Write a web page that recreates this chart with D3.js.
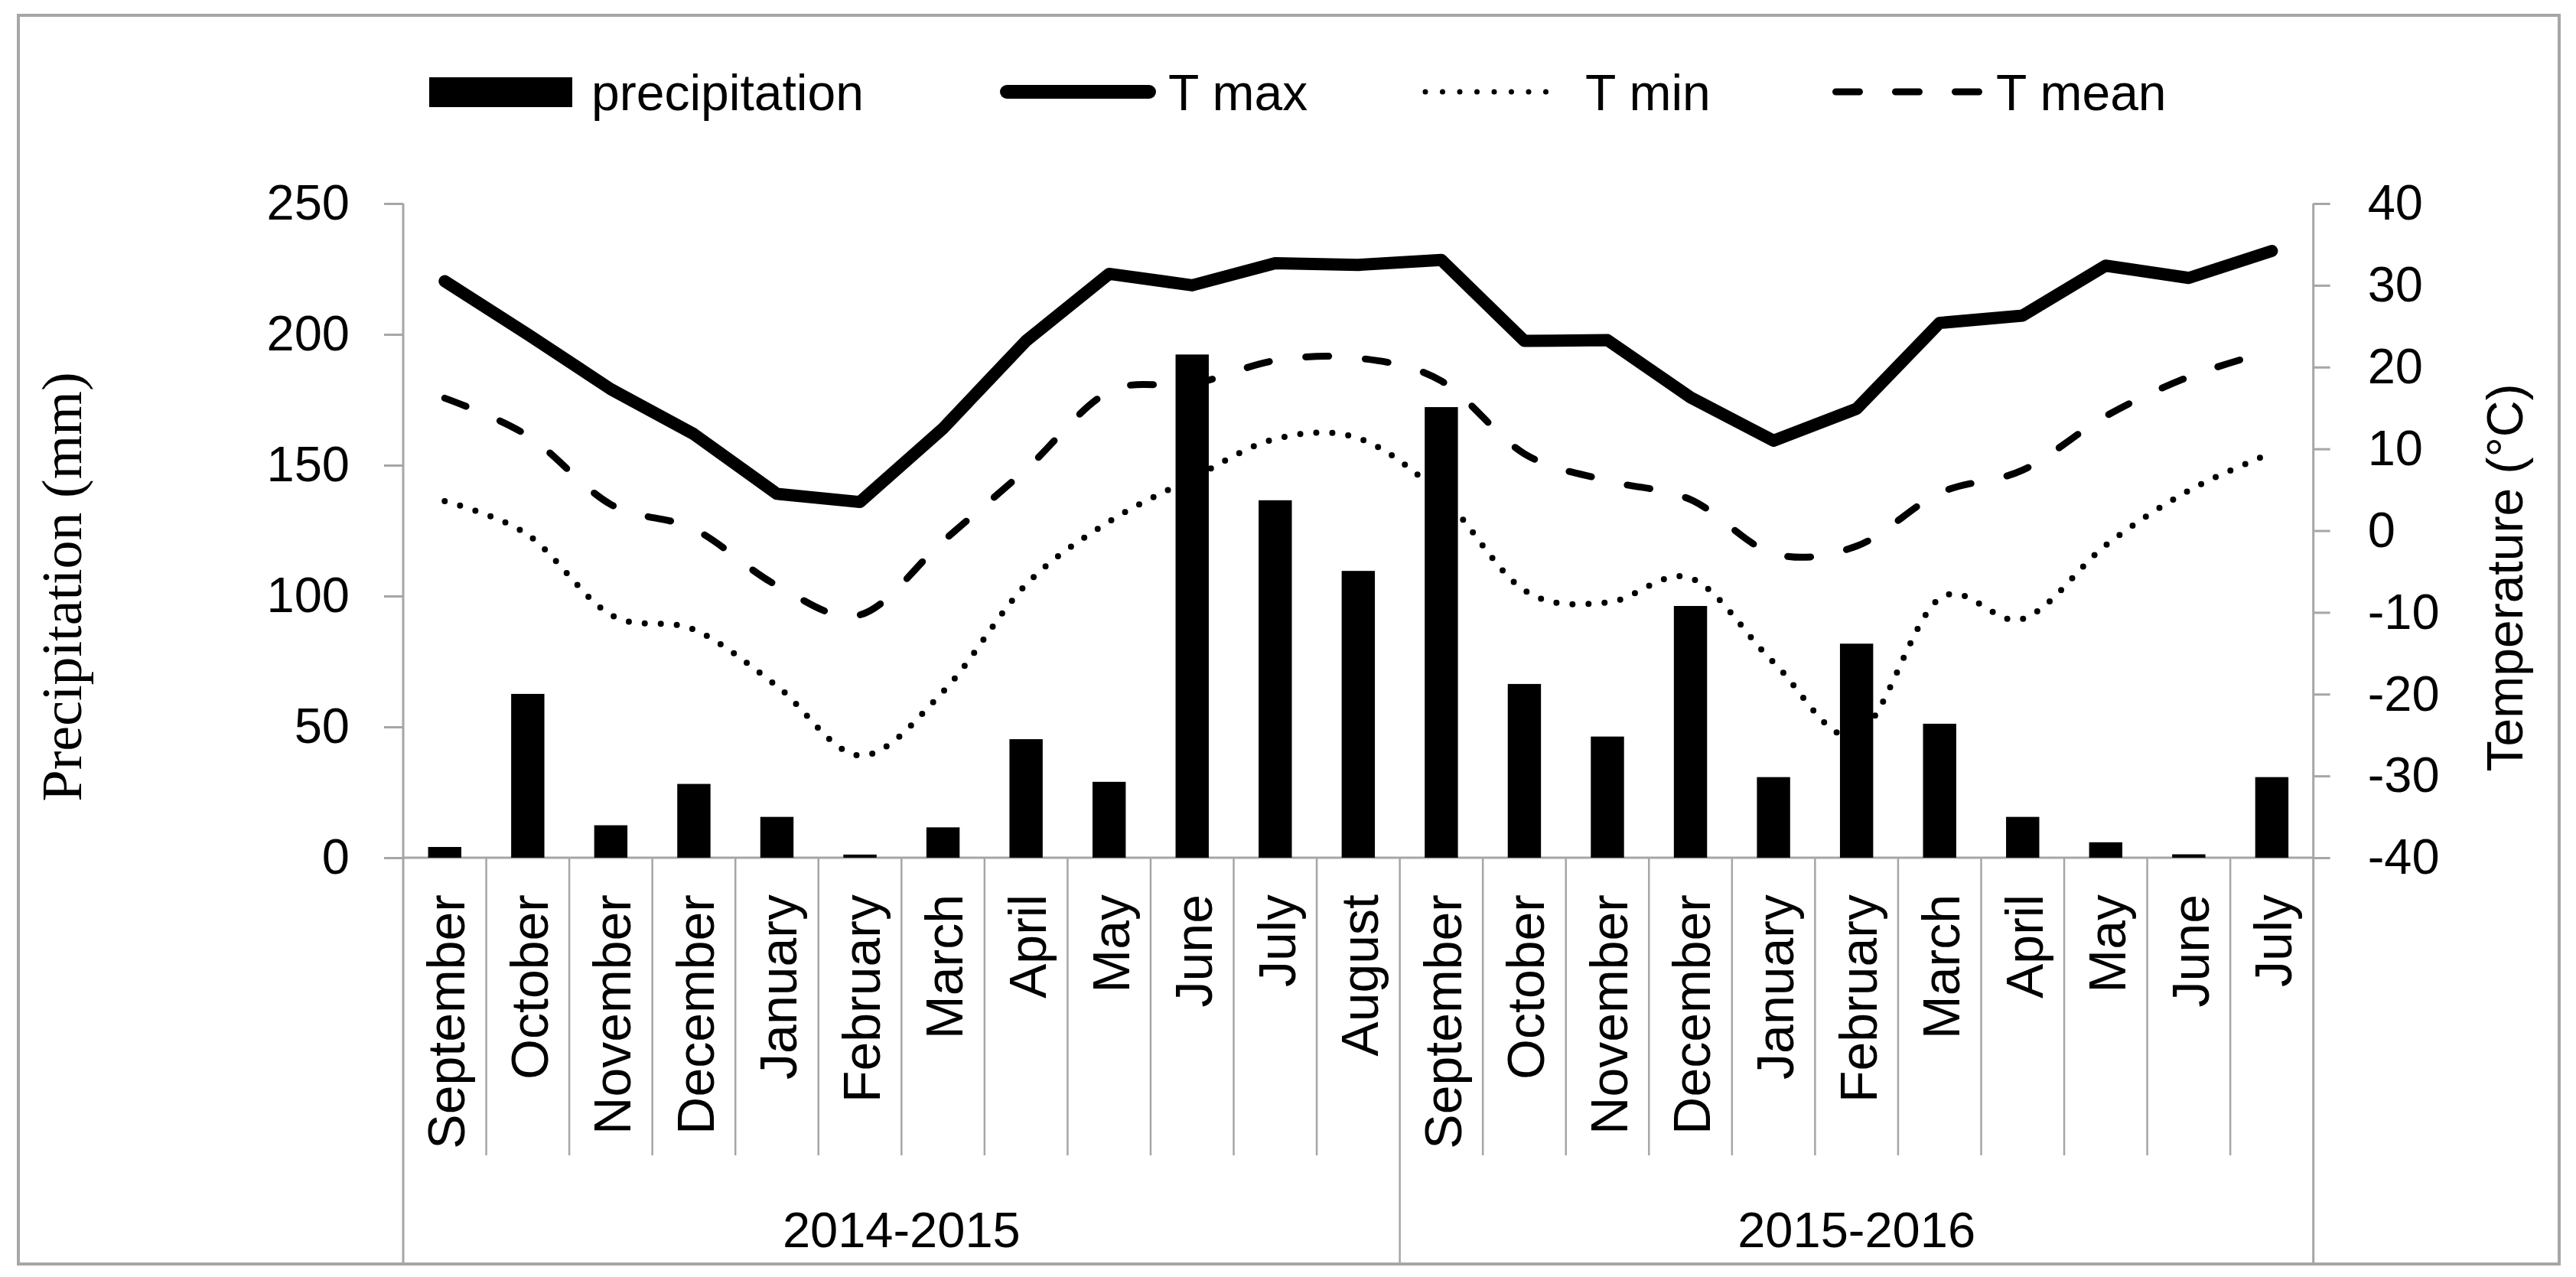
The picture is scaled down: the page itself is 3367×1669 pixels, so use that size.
<!DOCTYPE html>
<html>
<head>
<meta charset="utf-8">
<script src="https://cdn.jsdelivr.net/npm/d3@7/dist/d3.min.js"></script>
<style>
  html, body { margin: 0; padding: 0; background: #ffffff; }
  svg { display: block; }
</style>
</head>
<body>
<svg id="chart" width="3367" height="1669"></svg>
<script>
// ---------------- data ----------------
const months = ["September","October","November","December","January","February","March","April","May","June","July","August",
                "September","October","November","December","January","February","March","April","May","June","July"];
const seasons = ["2014-2015", "2015-2016"];
const seasonLengths = [12, 11];
const precipitation = [4.1, 62.6, 12.4, 28.2, 15.6, 1.2, 11.6, 45.3, 29.0, 192.3, 136.6, 109.6,
                       172.2, 66.4, 46.3, 96.2, 30.8, 81.8, 51.2, 15.6, 5.9, 1.3, 30.8];
const tMax  = [30.5, 24.0, 17.3, 11.8, 4.5, 3.5, 12.5, 23.2, 31.4, 30.0, 32.7, 32.5,
               33.1, 23.2, 23.3, 16.3, 11.0, 14.9, 25.4, 26.3, 32.4, 30.9, 34.2];
const tMin  = [3.6, -0.5, -10.3, -12.1, -19.0, -27.5, -19.7, -6.6, 1.1, 6.4, 11.2, 11.3,
               4.3, -7.3, -8.8, -5.8, -16.1, -25.0, -8.3, -10.8, -1.8, 4.9, 9.5];
const tMean = [16.2, 11.6, 3.2, 0.2, -6.7, -10.3, -1.3, 7.5, 17.0, 17.9, 20.8, 21.1,
               18.3, 9.4, 6.1, 3.8, -2.8, -1.9, 4.6, 7.4, 14.0, 18.8, 22.0];
const precipTicks = [0, 50, 100, 150, 200, 250];
const tempTicks = [-40, -30, -20, -10, 0, 10, 20, 30, 40];
const legendLabels = ["precipitation", "T max", "T min", "T mean"];

// ---------------- layout ----------------
const W = 3367, H = 1669;
const plotL = 527, plotR = 3023.7, plotT = 266, plotB = 1121;
const sepBottom = 1510, frameBottom = 1651;
const gray = "#a6a6a6";
const sans = "'Liberation Sans', Arial, sans-serif";
const serif = "'Liberation Serif', 'Times New Roman', serif";

const svg = d3.select("#chart");
svg.append("rect").attr("x", 0).attr("y", 0).attr("width", W).attr("height", H).attr("fill", "#fff");
// outer frame
svg.append("rect").attr("x", 24).attr("y", 20).attr("width", 3321).attr("height", 1632)
   .attr("fill", "none").attr("stroke", gray).attr("stroke-width", 4);

const idx = d3.range(months.length);
const x = d3.scaleBand().domain(idx).range([plotL, plotR]).paddingInner(0).paddingOuter(0);
const cx = i => x(i) + x.bandwidth() / 2;
const yP = d3.scaleLinear().domain([0, 250]).range([plotB, plotT]);
const yT = d3.scaleLinear().domain([-40, 40]).range([plotB, plotT]);

// ---------------- axes ----------------
const axL = svg.append("g").attr("transform", `translate(${plotL},0)`)
  .call(d3.axisLeft(yP).tickValues(precipTicks).tickSize(25).tickSizeOuter(0).tickPadding(45).tickFormat(d => String(d)));
const axR = svg.append("g").attr("transform", `translate(${plotR},0)`)
  .call(d3.axisRight(yT).tickValues(tempTicks).tickSize(22).tickSizeOuter(0).tickPadding(49).tickFormat(d => String(d)));
[axL, axR].forEach(g => {
  g.select(".domain").remove();
  g.selectAll(".tick line").attr("stroke", gray).attr("stroke-width", 3);
  g.selectAll(".tick text").attr("fill", "#000").style("font-family", sans).style("font-size", "65px");
});
// vertical axis lines (continue down as group separators)
svg.append("line").attr("x1", plotL).attr("x2", plotL).attr("y1", plotT).attr("y2", frameBottom)
   .attr("stroke", gray).attr("stroke-width", 3);
svg.append("line").attr("x1", plotR).attr("x2", plotR).attr("y1", plotT).attr("y2", frameBottom)
   .attr("stroke", gray).attr("stroke-width", 3);
// category axis baseline
svg.append("line").attr("x1", plotL).attr("x2", plotR).attr("y1", plotB).attr("y2", plotB)
   .attr("stroke", gray).attr("stroke-width", 3);

// category separators
let cum = 0;
const groupEdges = [0];
seasonLengths.forEach(n => { cum += n; groupEdges.push(cum); });
d3.range(1, months.length).forEach(i => {
  const isGroup = groupEdges.includes(i);
  svg.append("line").attr("x1", x(i)).attr("x2", x(i))
     .attr("y1", plotB).attr("y2", isGroup ? frameBottom : sepBottom)
     .attr("stroke", gray).attr("stroke-width", 2.5);
});

// month labels
svg.append("g").selectAll("text").data(idx).join("text")
  .attr("transform", i => `translate(${cx(i)},1169) rotate(-90)`)
  .attr("text-anchor", "end").attr("dy", "0.38em")
  .style("font-family", sans).style("font-size", "68px").attr("fill", "#000")
  .text(i => months[i]);

// season labels
seasons.forEach((s, k) => {
  const x0 = x(groupEdges[k]);
  const x1 = groupEdges[k + 1] < months.length ? x(groupEdges[k + 1]) : plotR;
  svg.append("text").attr("x", (x0 + x1) / 2).attr("y", 1630).attr("text-anchor", "middle")
     .style("font-family", sans).style("font-size", "65px").attr("fill", "#000").text(s);
});

// axis titles
svg.append("text").attr("transform", "translate(106,767) rotate(-90)").attr("text-anchor", "middle")
   .style("font-family", serif).style("font-size", "74px").attr("fill", "#000").text("Precipitation (mm)");
svg.append("text").attr("transform", "translate(3297,755) rotate(-90)").attr("text-anchor", "middle")
   .style("font-family", sans).style("font-size", "66px").attr("fill", "#000").text("Temperature (°C)");

// ---------------- lines ----------------
const lineLin = d3.line().x((d, i) => cx(i)).y(d => yT(d)).curve(d3.curveLinear);
const lineSmooth = d3.line().x((d, i) => cx(i)).y(d => yT(d)).curve(d3.curveCardinal.tension(0));

svg.append("path").attr("d", lineSmooth(tMin)).attr("fill", "none").attr("stroke", "#000")
   .attr("stroke-width", 8).attr("stroke-linecap", "round").attr("stroke-dasharray", "0 21");
svg.append("path").attr("d", lineSmooth(tMean)).attr("fill", "none").attr("stroke", "#000")
   .attr("stroke-width", 9).attr("stroke-linecap", "round").attr("stroke-dasharray", "30 48");
svg.append("path").attr("d", lineLin(tMax)).attr("fill", "none").attr("stroke", "#000")
   .attr("stroke-width", 16).attr("stroke-linecap", "round").attr("stroke-linejoin", "round");

// ---------------- bars ----------------
const bw = x.bandwidth() * 0.4;
svg.append("g").selectAll("rect").data(precipitation).join("rect")
  .attr("x", (d, i) => cx(i) - bw / 2).attr("width", bw)
  .attr("y", d => yP(d)).attr("height", d => yP(0) - yP(d))
  .attr("fill", "#000");

// ---------------- legend ----------------
const lg = svg.append("g");
const ly = 120, lbase = 144;
lg.append("rect").attr("x", 561).attr("y", 101).attr("width", 187).attr("height", 39).attr("fill", "#000");
lg.append("line").attr("x1", 1316).attr("x2", 1502).attr("y1", ly).attr("y2", ly)
  .attr("stroke", "#000").attr("stroke-width", 18).attr("stroke-linecap", "round");
lg.append("line").attr("x1", 1863).attr("x2", 2043).attr("y1", ly).attr("y2", ly)
  .attr("stroke", "#000").attr("stroke-width", 7).attr("stroke-linecap", "round").attr("stroke-dasharray", "0 22.5");
lg.append("line").attr("x1", 2399.5).attr("x2", 2586.5).attr("y1", ly).attr("y2", ly)
  .attr("stroke", "#000").attr("stroke-width", 9).attr("stroke-linecap", "round").attr("stroke-dasharray", "31 47");
const lx = [773, 1527, 2072, 2609];
legendLabels.forEach((t, k) => {
  lg.append("text").attr("x", lx[k]).attr("y", lbase)
    .style("font-family", sans).style("font-size", "66px").attr("fill", "#000").text(t);
});
</script>
</body>
</html>
